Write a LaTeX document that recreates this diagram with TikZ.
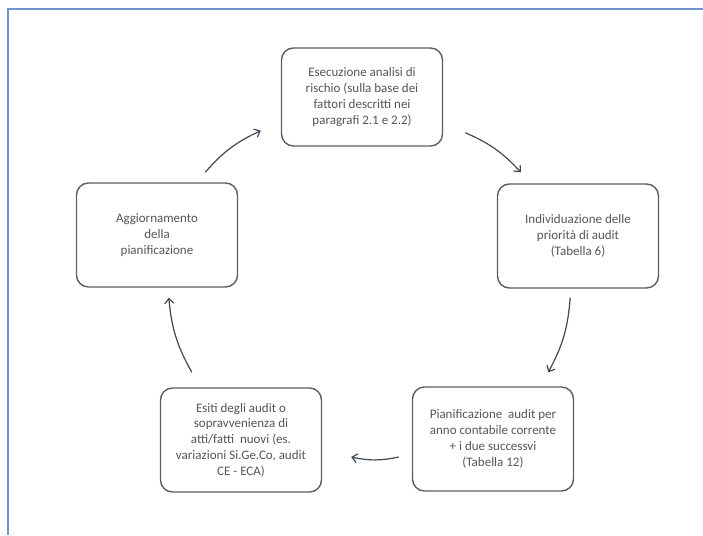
\documentclass[tikz,border=0pt]{standalone}
\usepackage{fontspec}
\setmainfont{Carlito}
\usetikzlibrary{arrows.meta, calc}

\definecolor{boxline}{HTML}{5E5E5E}
\definecolor{boxtext}{HTML}{555555}
\definecolor{flowline}{HTML}{3E4857}
\definecolor{frameblue}{HTML}{6F93CF}

\begin{document}
\begin{tikzpicture}[
    x=1pt, y=-1pt,
    step box/.style={draw=boxline, line width=1.4pt, rounded corners=12pt, align=center,
        text=boxtext, font=\fontsize{13}{15.8}\selectfont, minimum width=161pt, minimum height=104pt, inner sep=3pt},
    flow/.style={draw=flowline, line width=1.2pt, -{Straight Barb[length=5pt, width=9pt]}, bend left=12},
]
\useasboundingbox (0, 0) rectangle (703, 535);

\draw[frameblue, line width=1.5pt] (8, 535) -- (8, 9) -- (703, 9);

\node[step box, minimum height=98pt] (risk) at (362, 97) {Esecuzione analisi di\\rischio (sulla base dei\\fattori descritti nei\\paragrafi 2.1 e 2.2)};
\node[step box] (prio) at (578, 236) {Individuazione delle\\priorità di audit\\(Tabella 6)};
\node[step box] (plan) at (493, 439) {Pianificazione\ \ audit per\\anno contabile corrente\\+ i due successvi\\(Tabella 12)};
\node[step box] (esiti) at (241, 440) {Esiti degli audit o\\sopravvenienza di\\atti/fatti\ \ nuovi (es.\\variazioni Si.Ge.Co, audit\\CE - ECA)};
\node[step box] (update) at (157, 235) {Aggiornamento\\della\\pianificazione};

\draw[flow] ($(update.north east) + (-33, -10)$) to ($(risk.south west) + (-20, -16)$);
\draw[flow] ($(risk.south east) + (22, -14)$) to ($(prio.north west) + (24, -11)$);
\draw[flow] ($(prio.south east) + (-89, 9)$) to ($(plan.north east) + (-26, -14)$);
\draw[flow] ($(plan.west) + (-13, 18)$) to ($(esiti.east) + (29, 17)$);
\draw[flow] ($(esiti.north west) + (32, -15)$) to ($(update.south west) + (93, 10)$);
\end{tikzpicture}
\end{document}
